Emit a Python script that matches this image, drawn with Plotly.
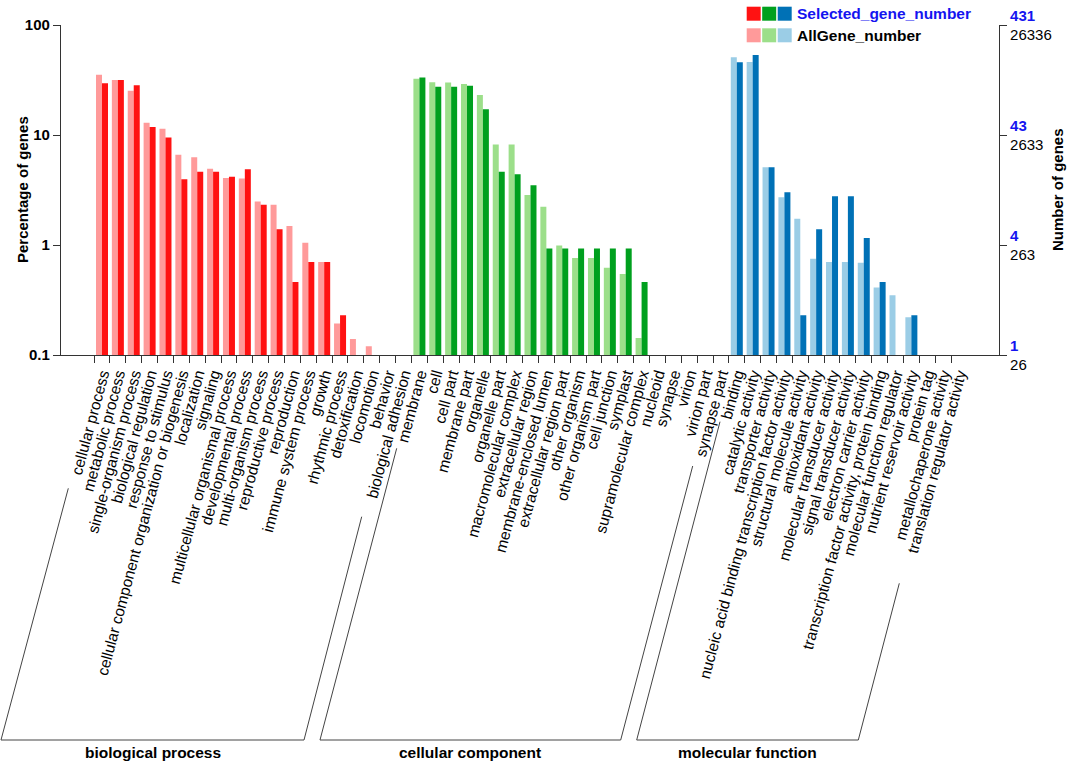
import plotly.graph_objects as go

# ---------------- data ----------------
bp_terms = ["cellular process", "metabolic process", "single-organism process", "biological regulation",
            "response to stimulus", "cellular component organization or biogenesis", "localization",
            "signaling", "multicellular organismal process", "developmental process",
            "multi-organism process", "reproductive process", "reproduction", "immune system process",
            "growth", "rhythmic process", "detoxification", "locomotion", "behavior", "biological adhesion"]
bp_all = [35.3, 31.6, 25.3, 12.9, 11.4, 6.6, 6.27, 4.94, 4.06, 4.02,
          2.49, 2.32, 1.49, 1.05, 0.70, 0.193, 0.14, 0.12, None, None]
bp_sel = [29.5, 31.6, 28.3, 11.8, 9.5, 3.96, 4.64, 4.64, 4.18, 4.87,
          2.32, 1.39, 0.46, 0.70, 0.70, 0.23, None, None, None, None]

cc_terms = ["membrane", "cell", "cell part", "membrane part", "organelle", "organelle part",
            "macromolecular complex", "extracellular region", "membrane-enclosed lumen",
            "extracellular region part", "other organism", "other organism part", "cell junction",
            "symplast", "supramolecular complex", "nucleoid", "synapse", "virion", "virion part",
            "synapse part"]
cc_all = [32.5, 30.1, 30.0, 29.1, 23.1, 8.2, 8.2, 2.85, 2.23, 0.99,
          0.76, 0.76, 0.62, 0.545, 0.143, None, None, None, None, None]
cc_sel = [33.4, 27.5, 27.5, 28.1, 17.1, 4.64, 4.39, 3.49, 0.93, 0.93,
          0.93, 0.93, 0.93, 0.93, 0.46, None, None, None, None, None]

mf_terms = ["binding", "catalytic activity", "transporter activity",
            "nucleic acid binding transcription factor activity", "structural molecule activity",
            "antioxidant activity", "molecular transducer activity", "signal transducer activity",
            "electron carrier activity", "transcription factor activity, protein binding",
            "molecular function regulator", "nutrient reservoir activity", "protein tag",
            "metallochaperone activity", "translation regulator activity"]
mf_all = [50.8, 46.1, 5.09, 2.71, 1.73, 0.75, 0.70, 0.70, 0.69, 0.41, 0.35, 0.22, None, None, None]
mf_sel = [45.8, 53.4, 5.09, 3.01, 0.23, 1.39, 2.77, 2.77, 1.16, 0.46, None, 0.23, None, None, None]

group_names = ["biological process", "cellular component", "molecular function"]
sel_colors = ["#FF1212", "#00A01E", "#0071B6"]
all_colors = ["#FF9A9A", "#9CDF8A", "#9BCDE6"]

y_ticks = [0.1, 1, 10, 100]
y_ticktext = ["0.1", "1", "10", "100"]
right_sel_ticks = ["1", "4", "43", "431"]
right_all_ticks = ["26", "263", "2633", "26336"]

# ---------------- build ----------------
groups = [(bp_terms, bp_all, bp_sel), (cc_terms, cc_all, cc_sel), (mf_terms, mf_all, mf_sel)]
terms, all_vals, sel_vals, col_all, col_sel = [], [], [], [], []
for gi, (t, a, s) in enumerate(groups):
    terms += t
    all_vals += a
    sel_vals += s
    col_all += [all_colors[gi]] * len(t)
    col_sel += [sel_colors[gi]] * len(t)
xi = list(range(len(terms)))

W, H = 1072, 766
L, R, T, B = 61, 999, 25, 355          # plot area in pixels
C0, SLOT = 102.0, 15.87                # first category centre, category pitch (px)
BW = 6.0 / SLOT                        # bar width in category units


def px(x):
    return (x - L) / (R - L)


def py(y):
    return (B - y) / (B - T)


FONT = "Liberation Sans, Arial, Helvetica, sans-serif"

fig = go.Figure()
fig.add_trace(go.Bar(x=xi, y=all_vals, offset=-BW, width=BW, marker=dict(color=col_all, line=dict(width=0)),
                     name="AllGene_number", showlegend=False))
fig.add_trace(go.Bar(x=xi, y=sel_vals, offset=0, width=BW, marker=dict(color=col_sel, line=dict(width=0)),
                     name="Selected_gene_number", showlegend=False))
fig.add_trace(go.Scatter(x=xi, y=sel_vals, yaxis="y2", mode="markers", marker=dict(opacity=0),
                         hoverinfo="skip", showlegend=False))

axis_col = "#333333"
fig.update_layout(
    width=W, height=H,
    margin=dict(l=L, r=W - R, t=T, b=H - B, pad=0, autoexpand=False),
    paper_bgcolor="white", plot_bgcolor="white",
    barmode="overlay",
    font=dict(family=FONT, color="black"),
    xaxis=dict(
        automargin=False,
        range=[(L - C0) / SLOT, (R - C0) / SLOT],
        tickmode="array", tickvals=xi, ticktext=terms, tickangle=-75,
        ticks="outside", ticklen=3, tickcolor="rgba(0,0,0,0)",
        tickfont=dict(size=15.5, family=FONT, color="black"),
        showline=True, linecolor=axis_col, linewidth=1.2, showgrid=False, zeroline=False,
        minor=dict(tickvals=[i - 0.5 for i in xi], ticks="outside", ticklen=7,
                   tickcolor=axis_col, tickwidth=1, showgrid=False),
    ),
    yaxis=dict(
        automargin=False,
        type="log", range=[-1, 2], tickmode="array", tickvals=y_ticks,
        ticktext=["<b>%s</b>" % t for t in y_ticktext],
        tickfont=dict(size=15, family=FONT, color="black"),
        ticks="outside", ticklen=7, tickcolor=axis_col,
        showline=True, linecolor=axis_col, linewidth=1.2, showgrid=False, zeroline=False,
    ),
    yaxis2=dict(
        automargin=False,
        type="log", range=[-1, 2], overlaying="y", side="right", tickmode="array", tickvals=y_ticks,
        ticktext=["<b><span style='color:#1414F0'>%s</span></b><br>%s" % (s, a)
                  for s, a in zip(right_sel_ticks, right_all_ticks)],
        tickfont=dict(size=15, family=FONT, color="black"),
        ticks="outside", ticklen=7, tickcolor=axis_col,
        showline=True, linecolor=axis_col, linewidth=1.2, showgrid=False, zeroline=False,
    ),
)

# axis titles
fig.add_annotation(x=px(22), y=py(190), xref="paper", yref="paper", text="<b>Percentage of genes</b>",
                   xanchor="center", yanchor="middle",
                   textangle=-90, showarrow=False, font=dict(size=15, family=FONT, color="black"))
fig.add_annotation(x=px(1057), y=py(190), xref="paper", yref="paper", text="<b>Number of genes</b>",
                   xanchor="center", yanchor="middle",
                   textangle=-90, showarrow=False, font=dict(size=15, family=FONT, color="black"))

# group brackets
brackets = [
    [(68.3, 488.3), (1, 740), (304, 740), (361.7, 516.7)],
    [(396.7, 448.3), (320, 740), (620.7, 740), (692.7, 466)],
    [(720, 421.7), (636.7, 740), (858.3, 740), (899.3, 583.3)],
]
label_x = [152.7, 470, 747]
for pts, name, lx in zip(brackets, group_names, label_x):
    path = "M " + " L ".join("%f,%f" % (px(a), py(b)) for a, b in pts)
    fig.add_shape(type="path", path=path, xref="paper", yref="paper",
                  line=dict(color="#444444", width=1))
    fig.add_annotation(x=px(lx), y=py(752.5), xref="paper", yref="paper", text="<b>%s</b>" % name,
                       xanchor="center", yanchor="middle",
                       showarrow=False, font=dict(size=15.5, family=FONT, color="black"))

# legend
sq_x = [746.7, 762.2, 777.7]
for row, (cols, ytop) in enumerate([(sel_colors, 6.7), (all_colors, 28.3)]):
    for c, x0 in zip(cols, sq_x):
        fig.add_shape(type="rect", xref="paper", yref="paper",
                      x0=px(x0), x1=px(x0 + 14), y0=py(ytop), y1=py(ytop + 14),
                      fillcolor=c, line=dict(width=0))
fig.add_annotation(x=px(795), y=py(13.7), xref="paper", yref="paper", xanchor="left", yanchor="middle",
                   text="<b>Selected_gene_number</b>", showarrow=False,
                   font=dict(size=15.5, family=FONT, color="#1414F0"))
fig.add_annotation(x=px(795), y=py(35.5), xref="paper", yref="paper", xanchor="left", yanchor="middle",
                   text="<b>AllGene_number</b>", showarrow=False,
                   font=dict(size=15.5, family=FONT, color="black"))

fig.write_html("out.html", config={"displayModeBar": False},
               post_script="document.body.style.margin='0';")
